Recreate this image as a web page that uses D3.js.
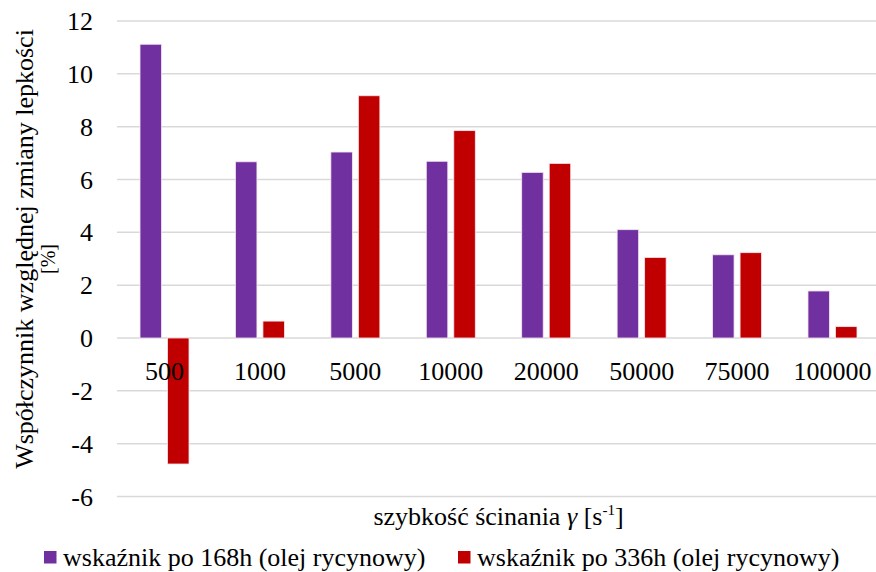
<!DOCTYPE html>
<html>
<head>
<meta charset="utf-8">
<script src="https://cdn.jsdelivr.net/npm/d3@7"></script>
<style>
  html, body { margin: 0; padding: 0; background: #fff; }
  svg { display: block; }
  text, tspan { font-family: "Liberation Serif" !important; }
</style>
</head>
<body>
<svg id="chart" width="876" height="572" font-family="Liberation Serif"></svg>
<script>
// Shear rate categories [1/s]
const categories = ["500", "1000", "5000", "10000", "20000", "50000", "75000", "100000"];
// Relative viscosity change index [%]
const after168h = [11.12, 6.67, 7.04, 6.69, 6.27, 4.10, 3.15, 1.78];
const after336h = [-4.77, 0.64, 9.17, 7.85, 6.61, 3.05, 3.23, 0.43];
const seriesNames = ["wskaźnik po 168h (olej rycynowy)", "wskaźnik po 336h (olej rycynowy)"];
const yTicks = [-6, -4, -2, 0, 2, 4, 6, 8, 10, 12];

const colors = ["#7030A0", "#C00000"];
const svg = d3.select("#chart");

// every label uses the same Times-like face
function serifText(sel) {
  return sel.attr("font-family", "Liberation Serif").style("font-family", "\"Liberation Serif\"");
}

const x = d3.scaleBand().domain(categories).range([116.8, 880.2]).padding(0);
const y = d3.scaleLinear().domain([-6, 12]).range([496.5, 21]);

// horizontal gridlines
svg.append("g")
  .selectAll("line")
  .data(yTicks)
  .join("line")
  .attr("x1", 117).attr("x2", 876)
  .attr("y1", d => y(d)).attr("y2", d => y(d))
  .attr("stroke", "#d9d9d9").attr("stroke-width", 1.5);

// y tick labels
svg.append("g")
  .selectAll("text")
  .data(yTicks)
  .join("text")
  .call(serifText)
  .attr("x", 93).attr("y", d => y(d) + 9)
  .attr("text-anchor", "end")
  .attr("font-size", 26)
  .text(d => d);

// bars
const barW = 21.5, gap = 6;
const series = [after168h, after336h];
series.forEach((vals, si) => {
  svg.append("g")
    .selectAll("rect")
    .data(vals)
    .join("rect")
    .attr("x", (d, i) => x(categories[i]) + x.bandwidth() / 2 - (barW + gap / 2) + si * (barW + gap))
    .attr("y", d => y(Math.max(0, d)))
    .attr("width", barW)
    .attr("height", d => Math.abs(y(d) - y(0)))
    .attr("fill", colors[si])
    .attr("stroke", "#f4e6ee").attr("stroke-width", 0.8);
});

// x tick labels
svg.append("g")
  .selectAll("text")
  .data(categories)
  .join("text")
  .call(serifText)
  .attr("x", d => x(d) + x.bandwidth() / 2)
  .attr("y", 380)
  .attr("text-anchor", "middle")
  .attr("font-size", 26)
  .text(d => d);

// y axis title
svg.append("text")
  .call(serifText)
  .attr("transform", "translate(33,249) rotate(-90)")
  .attr("text-anchor", "middle")
  .attr("font-size", 26)
  .text("Współczynnik względnej zmiany lepkości");
svg.append("text")
  .call(serifText)
  .attr("transform", "translate(55,259) rotate(-90)")
  .attr("text-anchor", "middle")
  .attr("font-size", 20)
  .text("[%]");

// x axis title
const xt = svg.append("text")
  .call(serifText)
  .attr("x", 498.5).attr("y", 525)
  .attr("text-anchor", "middle")
  .attr("font-size", 26);
xt.append("tspan").text("szybkość ścinania ");
xt.append("tspan").attr("font-style", "italic").text("γ");
xt.append("tspan").text(" [s");
xt.append("tspan").attr("font-size", 15).attr("dy", -10).text("-1");
xt.append("tspan").attr("dy", 10).text("]");

// legend
const legendX = [44, 458];
const lg = svg.append("g")
  .selectAll("g")
  .data(seriesNames)
  .join("g")
  .attr("transform", (d, i) => `translate(${legendX[i]},0)`);
lg.append("rect")
  .attr("x", 0).attr("y", 551)
  .attr("width", 12.5).attr("height", 12.5)
  .attr("fill", (d, i) => colors[i]);
lg.append("text")
  .call(serifText)
  .attr("x", 19).attr("y", 566)
  .attr("font-size", 26)
  .text(d => d);
</script>
</body>
</html>
